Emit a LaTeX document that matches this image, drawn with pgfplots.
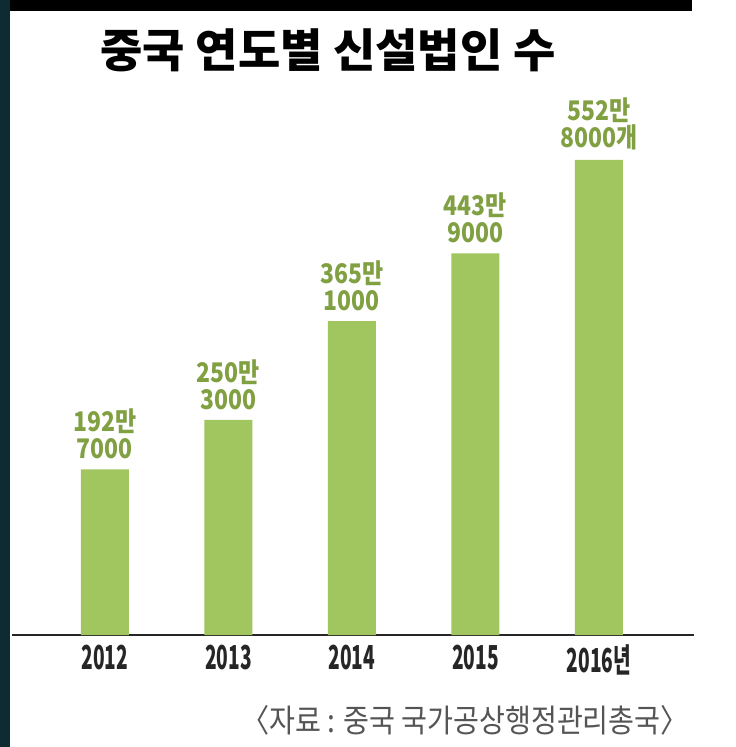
\documentclass[border=0pt]{standalone}
\usepackage{pgfplots}
\pgfplotsset{compat=1.18}
\usepackage{fontspec}
\setmainfont{Noto Sans CJK KR}
\definecolor{barG}{RGB}{161,198,96}
\definecolor{labG}{RGB}{128,160,66}
\definecolor{teal}{RGB}{14,42,50}
\definecolor{srcG}{RGB}{85,85,85}
\begin{document}
\begin{tikzpicture}[x=1pt,y=1pt]
\fill[white] (0,0) rectangle (736,747);
\fill[teal] (0,0) rectangle (10,747);
\fill[black] (10,747) rectangle (692,736);
\node[font=\fontsize{46}{46}\selectfont\bfseries, anchor=center, xscale=1.0] at (328,697) {중국 연도별 신설법인 수};
\begin{axis}[
  at={(10,130)}, anchor=south west,
  scale only axis, width=682pt, height=516pt,
  xmin=-0.749, xmax=4.773, ymin=0, ymax=600,
  axis x line*=bottom, axis y line=none,
  x axis line style={-, line width=2pt, black!85},
  xtick={0,1,2,3,4},
  xticklabels={2012,2013,2014,2015,2016년},
  major tick length=0pt,
  xticklabel style={font=\fontsize{33}{33}\selectfont\bfseries, text=black!85, xscale=0.58, yshift=-6pt},
  ybar, bar width=48pt,
  clip=false,
  nodes near coords,
  point meta=explicit symbolic,
  every node near coord/.append style={font=\fontsize{27}{27}\selectfont\bfseries, text=labG, align=center, xscale=0.85, inner sep=0pt, yshift=10pt},
]
\addplot[fill=barG, draw=none] coordinates {
 (0,192.7) [{192만\\7000}]
 (1,250.3) [{250만\\3000}]
 (2,365.1) [{365만\\1000}]
 (3,443.9) [{443만\\9000}]
 (4,552.8) [{552만\\8000개}]
};
\end{axis}
\node[font=\fontsize{32}{32}\selectfont, text=srcG, anchor=east, xscale=0.88] at (692,27) {〈자료 : 중국 국가공상행정관리총국〉};
\end{tikzpicture}
\end{document}
